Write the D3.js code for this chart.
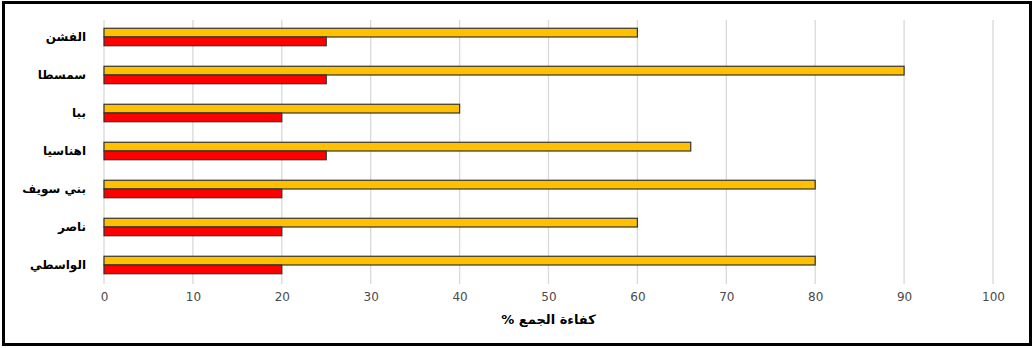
<!DOCTYPE html>
<html>
<head>
<meta charset="utf-8">
<script src="https://cdn.jsdelivr.net/npm/d3@7"></script>
<style>
  body { margin: 0; background: #ffffff; }
  svg { display: block; }
</style>
</head>
<body>
<div id="chart"></div>
<script>
// categories top to bottom
const categories = ['الفشن', 'سمسطا', 'ببا', 'اهناسيا', 'بني سويف', 'ناصر', 'الواسطي'];
const seriesKeys = ['yellow', 'red'];
const yellowValues = [60, 90, 40, 66, 80, 60, 80];
const redValues = [25, 25, 20, 25, 20, 20, 20];
const xTicks = [0, 10, 20, 30, 40, 50, 60, 70, 80, 90, 100];
const xTitle = 'كفاءة الجمع %';

const width = 1033, height = 348;
const plot = { left: 104, right: 993, top: 18, bottom: 284 };
const colors = { yellow: '#FFC000', red: '#FF0000' };

const rows = categories.map((c, i) => ({ cat: c, yellow: yellowValues[i], red: redValues[i] }));

const svg = d3.select('#chart').append('svg')
    .attr('width', width)
    .attr('height', height);

// outer frame
svg.append('rect')
    .attr('x', 3.5).attr('y', 2.5)
    .attr('width', 1027).attr('height', 342)
    .attr('fill', '#fff')
    .attr('stroke', '#000')
    .attr('stroke-width', 3);

const x = d3.scaleLinear().domain([0, 100]).range([plot.left, plot.right]);
const y = d3.scaleBand().domain(categories).range([plot.top, plot.bottom])
    .paddingInner(0.54).paddingOuter(0.27);
const ySub = d3.scaleBand().domain(seriesKeys).range([0, y.bandwidth()]);

// grid lines
svg.append('g')
    .selectAll('line')
    .data(xTicks)
    .enter().append('line')
    .attr('x1', d => x(d)).attr('x2', d => x(d))
    .attr('y1', plot.top + 2).attr('y2', plot.bottom)
    .attr('stroke', '#d9d9d9')
    .attr('stroke-width', 1.3);

// x axis labels
const xAxis = d3.axisBottom(x).tickValues(xTicks).tickSize(0).tickPadding(0);
const xg = svg.append('g')
    .attr('transform', `translate(0,${plot.bottom + 8})`)
    .call(xAxis);
xg.select('.domain').remove();
xg.selectAll('text')
    .style('font-family', 'Verdana, "DejaVu Sans", sans-serif')
    .style('font-size', '12px')
    .attr('fill', '#4a4a4a')
    .attr('dy', '0.71em');

// y axis labels
const yAxis = d3.axisLeft(y).tickSize(0).tickPadding(0);
const yg = svg.append('g')
    .attr('transform', `translate(${plot.left - 18},0)`)
    .call(yAxis);
yg.select('.domain').remove();
yg.selectAll('text')
    .style('font-family', '"DejaVu Sans", sans-serif')
    .style('font-size', '12px')
    .style('font-weight', 'bold')
    .attr('fill', '#000')
    .attr('direction', 'rtl')
    .attr('text-anchor', 'start');

// bars
svg.append('g')
    .selectAll('g')
    .data(rows)
    .enter().append('g')
    .attr('transform', d => `translate(0,${y(d.cat)})`)
    .selectAll('rect')
    .data(d => seriesKeys.map(k => ({ key: k, value: d[k] })))
    .enter().append('rect')
    .attr('x', x(0))
    .attr('y', d => ySub(d.key))
    .attr('width', d => x(d.value) - x(0))
    .attr('height', ySub.bandwidth())
    .attr('fill', d => colors[d.key])
    .attr('stroke', '#333333')
    .attr('stroke-width', 1.2);

// axis title
svg.append('text')
    .attr('x', (plot.left + plot.right) / 2)
    .attr('y', 324)
    .attr('text-anchor', 'middle')
    .attr('direction', 'rtl')
    .style('font-family', '"DejaVu Sans", sans-serif')
    .style('font-size', '13px')
    .style('font-weight', 'bold')
    .attr('fill', '#000')
    .text(xTitle);
</script>
</body>
</html>
